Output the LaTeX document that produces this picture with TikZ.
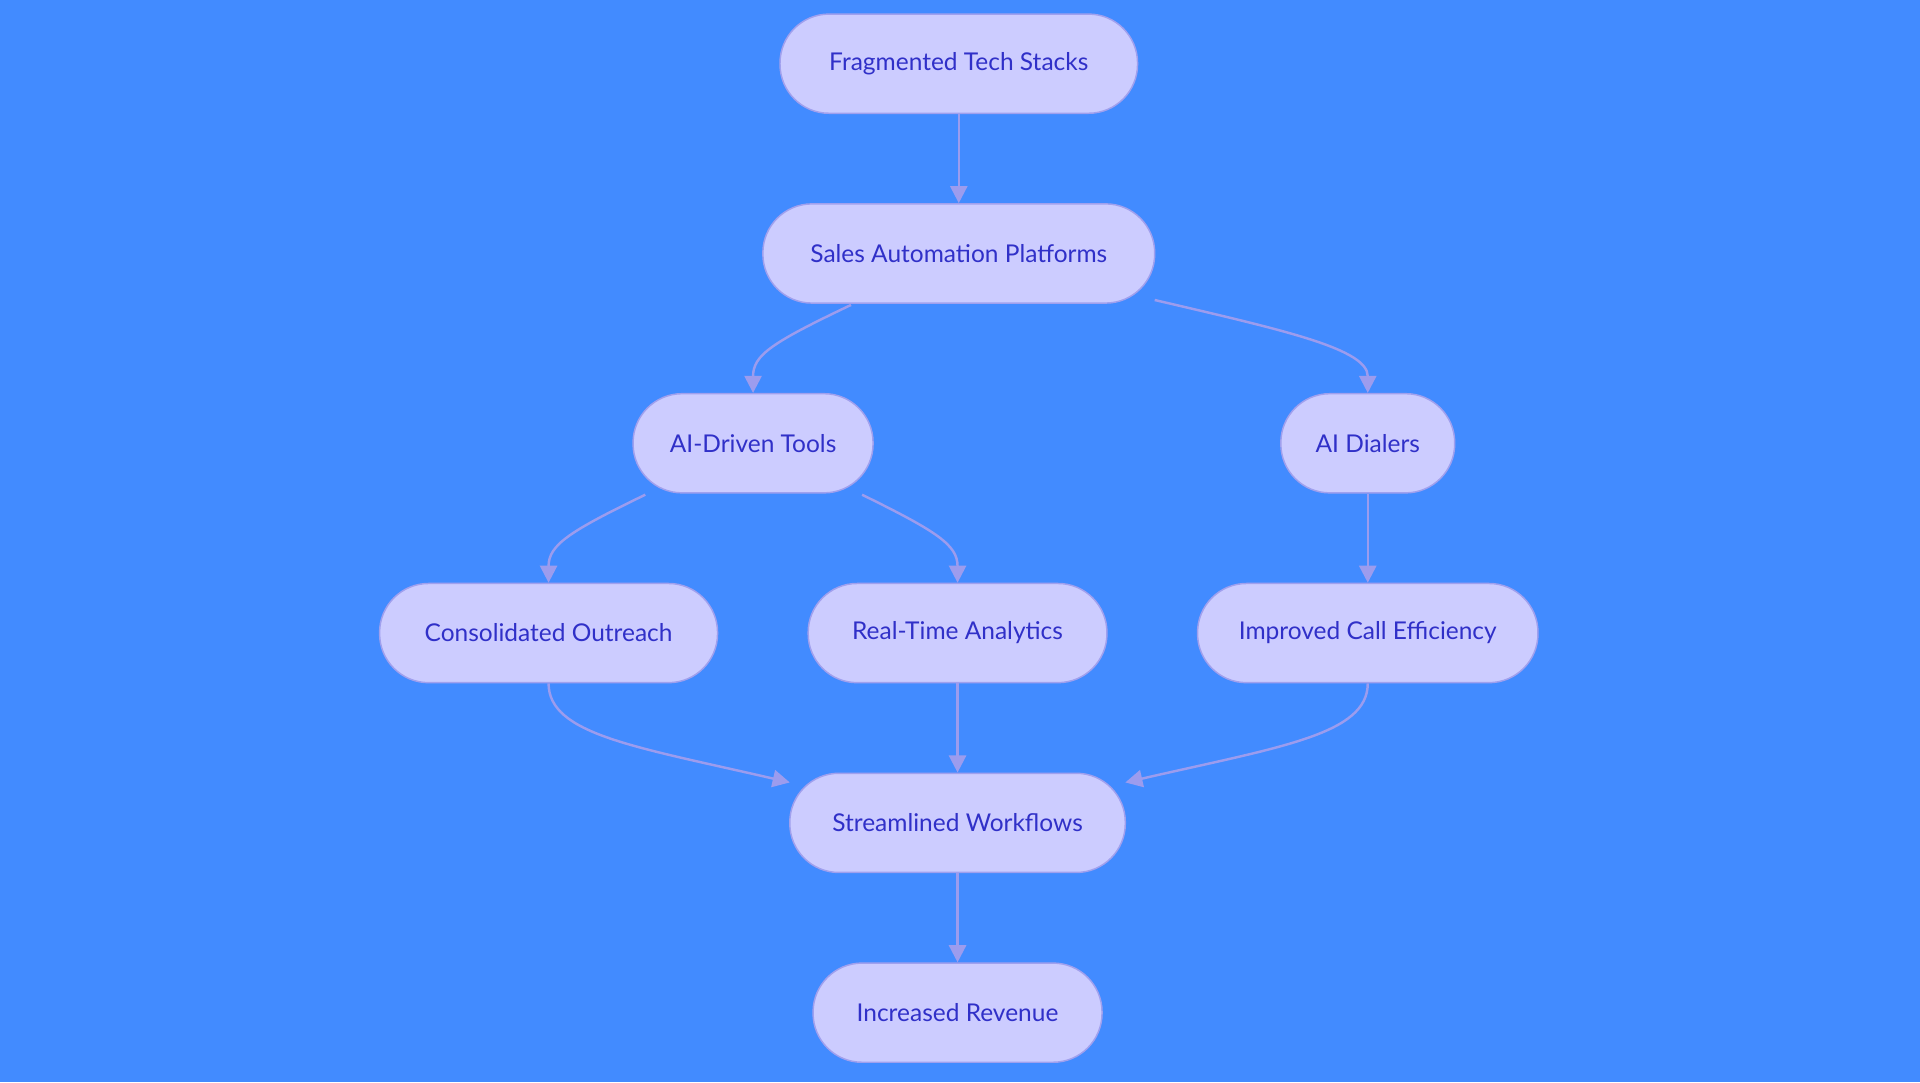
\documentclass[tikz,border=0pt]{standalone}
\usepackage{fontspec}
\setmainfont{Lato}
\usetikzlibrary{arrows.meta,calc}
\definecolor{bg}{HTML}{428BFF}
\definecolor{nf}{HTML}{CCCCFF}
\definecolor{nb}{HTML}{A0A0EE}
\definecolor{tx}{HTML}{3030C8}
\definecolor{ed}{HTML}{9C9CEE}
\begin{document}
\begin{tikzpicture}[x=1pt,y=-1pt,
  box/.style={draw=nb,fill=nf,line width=1.2pt,rounded corners=40pt,minimum height=81pt,text=tx,font=\fontsize{20}{24}\selectfont,inner sep=0pt},
  ar/.style={draw=ed,line width=2pt,-{Triangle[length=14pt,width=14pt]}}]
\fill[bg] (0,0) rectangle (1568,884);
\node[box,minimum width=292pt] (f) at (783,52) {Fragmented Tech Stacks};
\node[box,minimum width=320pt] (s) at (783,207) {Sales Automation Platforms};
\node[box,minimum width=196pt] (a) at (615,362) {AI-Driven Tools};
\node[box,minimum width=142pt] (d) at (1117,362) {AI Dialers};
\node[box,minimum width=276pt] (c) at (448,517) {Consolidated Outreach};
\node[box,minimum width=244pt] (r) at (782,517) {Real-Time Analytics};
\node[box,minimum width=278pt] (i) at (1117,517) {Improved Call Efficiency};
\node[box,minimum width=274pt] (w) at (782,672) {Streamlined Workflows};
\node[box,minimum width=236pt] (v) at (782,827) {Increased Revenue};
\coordinate (s1) at (695,249);
\coordinate (s2) at (943,245);
\coordinate (a1) at (527,404);
\coordinate (a2) at (704,404);
\coordinate (w1) at (645,639);
\coordinate (w2) at (919,639);
\draw[ar] (f) -- (s);
\draw[ar] (s1) .. controls (630,280) and (615,290) .. (a.north);
\draw[ar] (s2) .. controls (1050,270) and (1117,285) .. (d.north);
\draw[ar] (a1) .. controls (465,434) and (448,445) .. (c.north);
\draw[ar] (a2) .. controls (765,434) and (782,445) .. (r.north);
\draw[ar] (d) -- (i);
\draw[ar] (c.south) .. controls (448,600) and (520,610) .. (w1);
\draw[ar] (r) -- (w);
\draw[ar] (i.south) .. controls (1117,600) and (1045,610) .. (w2);
\draw[ar] (w) -- (v);
\end{tikzpicture}
\end{document}
